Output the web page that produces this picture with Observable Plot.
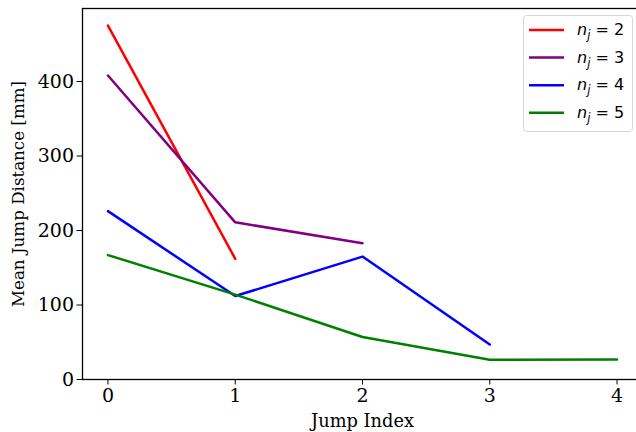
<!DOCTYPE html>
<html>
<head>
<meta charset="utf-8">
<script src="https://cdn.jsdelivr.net/npm/d3@7"></script>
<script src="https://cdn.jsdelivr.net/npm/@observablehq/plot@0.6"></script>
<style>
  html, body { margin: 0; padding: 0; background: #fff; overflow: hidden; }
  #chart { position: relative; width: 636px; height: 432px; overflow: hidden; }
  #chart svg { max-width: none !important; }
</style>
</head>
<body>
<div id="chart"></div>
<script>
// Data
const seriesLabels = ["2", "3", "4", "5"];
const seriesColors = ["#ff0000", "#800080", "#0000ff", "#008000"];
const nj2 = [475, 162];
const nj3 = [408, 211, 183];
const nj4 = [226, 112, 165, 47];
const nj5 = [167, 114, 57, 26.5, 27];
const xTicks = [0, 1, 2, 3, 4];
const yTicks = [0, 100, 200, 300, 400];

const allSeries = [nj2, nj3, nj4, nj5];
const rows = [];
allSeries.forEach((vals, s) => {
  vals.forEach((v, i) => rows.push({series: seriesLabels[s], index: i, value: v}));
});

const serif = "'DejaVu Serif', serif";
const fmt = d3.format("d");

const chart = Plot.plot({
  width: 642,
  height: 432,
  marginLeft: 82,
  marginTop: 8,
  marginBottom: 53,
  marginRight: 0,
  style: {fontFamily: serif, fontSize: "19px", background: "#fff", color: "#000", maxWidth: "none"},
  x: {domain: [-0.2, 4.2]},
  y: {domain: [0, 498]},
  color: {domain: seriesLabels, range: seriesColors},
  marks: [
    Plot.axisX({ticks: xTicks, tickFormat: fmt, tickSize: 5.5, tickPadding: 3, fontSize: 19, label: null}),
    Plot.axisX({ticks: [], label: "Jump Index", labelAnchor: "center", labelOffset: 47, labelArrow: "none", fontSize: 17.8}),
    Plot.axisY({ticks: yTicks, tickFormat: fmt, tickSize: 5.5, tickPadding: 3, fontSize: 19, label: null}),
    Plot.axisY({ticks: [], label: "Mean Jump Distance [mm]", labelAnchor: "center", labelOffset: 70, labelArrow: "none", fontSize: 16.7}),
    Plot.lineY(rows, {x: "index", y: "value", z: "series", stroke: "series", strokeWidth: 2.5}),
    Plot.frame({stroke: "#000", strokeWidth: 1.3})
  ]
});

document.getElementById("chart").appendChild(chart);

// Legend (matplotlib style box, upper right)
const svg = d3.select(chart);
const lg = svg.append("g").attr("transform", "translate(523,15)").attr("text-anchor", "start");
lg.append("rect")
  .attr("x", 0.5).attr("y", 0.5).attr("width", 109).attr("height", 116)
  .attr("rx", 3).attr("fill", "#fff").attr("fill-opacity", 0.8)
  .attr("stroke", "#d6d6d6").attr("stroke-width", 1);
seriesLabels.forEach((lab, i) => {
  const cy = 15 + i * 27.6;
  lg.append("line")
    .attr("x1", 6).attr("x2", 41).attr("y1", cy).attr("y2", cy)
    .attr("stroke", seriesColors[i]).attr("stroke-width", 2.5);
  const t = lg.append("text")
    .attr("x", 54).attr("y", cy + 5)
    .attr("text-anchor", "start")
    .attr("font-family", "'DejaVu Sans', sans-serif")
    .attr("font-size", 16).attr("fill", "#000");
  t.append("tspan").attr("font-style", "italic").text("n");
  t.append("tspan").attr("font-style", "italic").attr("font-size", 11.5).attr("dy", 4).text("j");
  t.append("tspan").attr("dy", -4).text(" = " + lab);
});
</script>
</body>
</html>
